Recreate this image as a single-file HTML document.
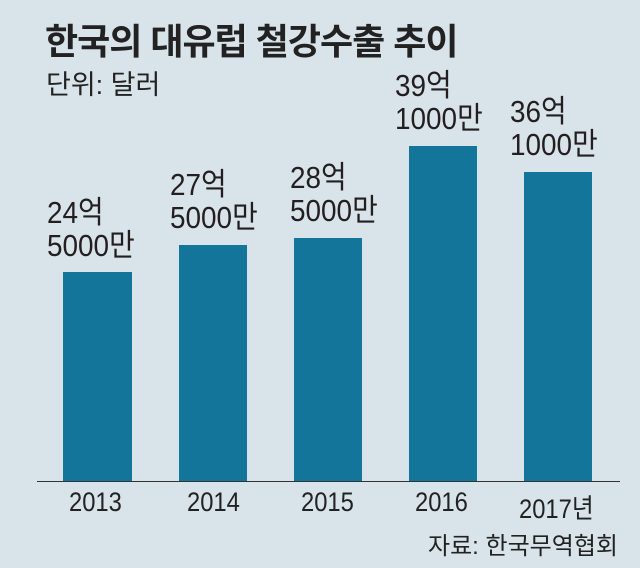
<!DOCTYPE html>
<html><head><meta charset="utf-8"><style>
body{margin:0;width:640px;height:568px;background:#d8e3ea;position:relative;overflow:hidden;font-family:"Liberation Sans","Noto Sans CJK KR",sans-serif;color:#222}
.t{position:absolute;white-space:nowrap;transform-origin:0 0}
.bar{position:absolute;background:#14759b;bottom:86px}
.v{position:absolute;font-size:31px;line-height:33px;transform:scaleX(.9);transform-origin:0 0;color:#231f20;white-space:nowrap}
.y{position:absolute;top:487px;font-size:27px;transform:scaleX(.88);transform-origin:0 0}
</style></head><body>
<div class="t" style="left:45px;top:13px;font-size:36px;font-weight:bold;letter-spacing:-1px">한국의 대유럽 철강수출 추이</div>
<div class="t" style="left:46px;top:63px;font-size:27px">단위: 달러</div>
<div class="bar" style="left:63px;width:69px;top:272px"></div>
<div class="bar" style="left:179px;width:68px;top:245px"></div>
<div class="bar" style="left:294px;width:68px;top:238px"></div>
<div class="bar" style="left:409px;width:68px;top:146px"></div>
<div class="bar" style="left:524px;width:68px;top:172px"></div>
<div style="position:absolute;left:37px;top:481px;width:583px;height:1px;background:#333"></div>
<div class="v" style="left:47px;top:196px">24억<br>5000만</div>
<div class="v" style="left:170px;top:168px">27억<br>5000만</div>
<div class="v" style="left:290px;top:161px">28억<br>5000만</div>
<div class="v" style="left:395px;top:69px">39억<br>1000만</div>
<div class="v" style="left:510px;top:95px">36억<br>1000만</div>
<div class="y" style="left:69px">2013</div>
<div class="y" style="left:187px">2014</div>
<div class="y" style="left:301px">2015</div>
<div class="y" style="left:415px">2016</div>
<div class="y" style="left:519px">2017년</div>
<div class="t" style="left:428px;top:526px;font-size:24px">자료: 한국무역협회</div>
</body></html>
